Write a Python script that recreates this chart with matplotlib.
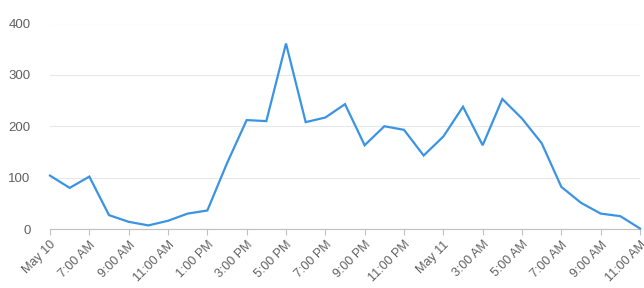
import matplotlib
matplotlib.use('Agg')
import matplotlib.pyplot as plt

plt.rcParams['font.family'] = ['Liberation Sans', 'DejaVu Sans']

tick_labels = ['May 10', '7:00 AM', '9:00 AM', '11:00 AM', '1:00 PM', '3:00 PM',
               '5:00 PM', '7:00 PM', '9:00 PM', '11:00 PM', 'May 11', '3:00 AM',
               '5:00 AM', '7:00 AM', '9:00 AM', '11:00 AM']
values = [104, 80, 102, 27, 14, 7, 16, 30, 36, 128, 212, 210, 361, 208, 217, 243,
          163, 200, 193, 143, 180, 238, 163, 253, 215, 167, 82, 51, 30, 25, 1]
hours = list(range(len(values)))


def main():
    fig = plt.figure(figsize=(6.44, 2.88), dpi=100)
    ax = fig.add_axes([50 / 644, 1 - 229 / 288, 590 / 644, 205.5 / 288])
    ax.plot(hours, values, color='#3b94e3', lw=1.6, solid_joinstyle='miter', clip_on=False, zorder=3)

    ax.set_xlim(0, len(values) - 1)
    ax.set_ylim(0, 400)
    ax.set_yticks([0, 100, 200, 300, 400])
    ax.set_xticks(hours[::2])
    ax.set_xticklabels(tick_labels, rotation=45, ha='right', rotation_mode='anchor')

    for s in ['top', 'right', 'left']:
        ax.spines[s].set_visible(False)
    ax.spines['bottom'].set_color('#c0c0c0')
    ax.spines['bottom'].set_zorder(2)
    ax.yaxis.grid(True, color='#e8e8e8', lw=0.8)
    ax.set_axisbelow(True)
    ax.tick_params(axis='y', length=0, pad=14, labelsize=9.5, labelcolor='#606060')
    ax.tick_params(axis='x', length=4, color='#c0c0c0', pad=3, labelsize=9, labelcolor='#606060')

    fig.savefig('out.png', dpi=100)


if __name__ == '__main__':
    main()
